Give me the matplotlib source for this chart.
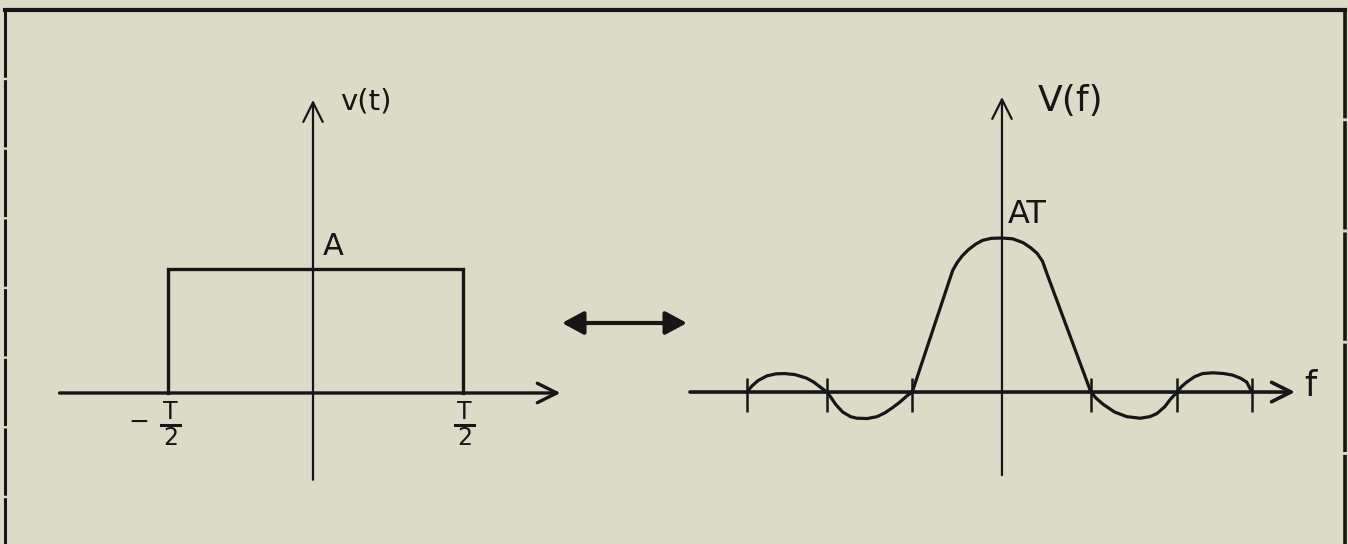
import matplotlib
matplotlib.use("Agg")
import matplotlib.pyplot as plt
from matplotlib.lines import Line2D

plt.rcParams['font.family'] = ['DejaVu Sans']

# rectangular pulse v(t), t in units of T/2, v in units of A
pulse_t = [-0.97, -0.97, 1.0, 1.0]
pulse_v = [0.0, 1.0, 1.0, 0.0]
edge_t = [-0.95, 1.01]          # where the -T/2 and T/2 labels sit

# spectrum V(f), f in units of 1/T, V in units of AT
spec_f = [-2.90, -2.84, -2.77, -2.67, -2.57, -2.47, -2.35, -2.22, -2.14, -2.06, -1.99,
          -1.95, -1.89, -1.81, -1.72, -1.65, -1.53, -1.42, -1.33, -1.24, -1.16, -1.08, -1.02,
          -0.56, -0.51, -0.45, -0.38, -0.30, -0.22, -0.12, 0.0, 0.12, 0.24, 0.33, 0.40, 0.46, 0.51,
          1.01, 1.07, 1.15, 1.28, 1.42, 1.57, 1.68, 1.76, 1.85, 1.91, 1.99,
          2.04, 2.10, 2.19, 2.28, 2.40, 2.52, 2.62, 2.71, 2.78, 2.84]
spec_v = [0.0, 0.04, 0.075, 0.105, 0.118, 0.12, 0.113, 0.09, 0.065, 0.03, 0.0,
          -0.03, -0.08, -0.13, -0.16, -0.17, -0.172, -0.16, -0.135, -0.10, -0.065, -0.025, 0.0,
          0.79, 0.84, 0.885, 0.925, 0.96, 0.985, 0.998, 1.0, 0.995, 0.97, 0.935, 0.90, 0.85, 0.77,
          0.0, -0.04, -0.08, -0.13, -0.16, -0.17, -0.16, -0.14, -0.095, -0.05, 0.0,
          0.035, 0.065, 0.10, 0.12, 0.125, 0.12, 0.11, 0.09, 0.065, 0.0]
zero_f = [-2.90, -1.99, -1.02, 1.01, 1.99, 2.84]

BG = '#dbdbc8'
INK = '#161616'
W, H = 1348, 544

fig = plt.figure(figsize=(W / 100, H / 100), dpi=100, facecolor=BG)


def box(x0, y0, x1, y1):
    # pixel box -> figure fraction
    return [x0 / W, 1 - y1 / H, (x1 - x0) / W, (y1 - y0) / H]


def axis_arrow(ax, start, tip, lw):
    ax.annotate('', xy=tip, xytext=start,
                arrowprops=dict(arrowstyle='->,head_length=0.7,head_width=0.35',
                                mutation_scale=20, lw=lw, color=INK,
                                shrinkA=0, shrinkB=0))


# ---- left: v(t)
axl = fig.add_axes(box(40, 80, 580, 500))
axl.set_xlim(-1.82, 1.78)
axl.set_ylim(-0.863, 2.524)
axl.axis('off')

axis_arrow(axl, (-1.69, 0), (1.65, 0), 2.4)
axis_arrow(axl, (0, -0.70), (0, 2.363), 1.6)
axl.plot(pulse_t, pulse_v, color=INK, lw=2.4, solid_joinstyle='miter')

axl.text(0.18, 2.35, 'v(t)', fontsize=21, color=INK, va='center', ha='left')
axl.text(0.067, 1.185, 'A', fontsize=22, color=INK, va='center', ha='left')

# -T/2 and T/2 written as T over a short bar over 2
axl.text(-1.16, -0.235, '\u2212', fontsize=18, color=INK, va='center', ha='center')
for tx in edge_t:
    axl.text(tx, -0.155, 'T', fontsize=17, color=INK, va='center', ha='center')
    axl.text(tx, -0.36, '2', fontsize=17, color=INK, va='center', ha='center')
    axl.plot([tx - 0.065, tx + 0.065], [-0.26, -0.26], color=INK, lw=2.2)

# ---- right: V(f)
axr = fig.add_axes(box(660, 80, 1340, 500))
axr.set_xlim(-3.886, 3.841)
axr.set_ylim(-0.701, 2.026)
axr.axis('off')

axis_arrow(axr, (-3.545, 0), (3.33, 0), 2.6)
axis_arrow(axr, (0, -0.54), (0, 1.916), 1.6)
axr.vlines(zero_f, -0.13, 0.09, color=INK, lw=1.8)
axr.plot(spec_f, spec_v, color=INK, lw=2.3, solid_joinstyle='round')

axr.text(0.41, 1.89, 'V(f)', fontsize=26, color=INK, va='center', ha='left')
axr.text(0.07, 1.15, 'AT', fontsize=23, color=INK, va='center', ha='left')
axr.text(3.44, 0.04, 'f', fontsize=25, color=INK, va='center', ha='left')

# ---- transform pair arrow and frame
fig.add_artist(plt.Annotation('', xy=(687 / W, 1 - 323 / H), xytext=(562 / W, 1 - 323 / H),
                              xycoords='figure fraction', textcoords='figure fraction',
                              arrowprops=dict(arrowstyle='<|-|>,head_length=0.65,head_width=0.35',
                                              mutation_scale=20, lw=3, color=INK,
                                              shrinkA=0, shrinkB=0)))

fig.add_artist(Line2D([5 / W, 1345 / W], [1 - 10 / H, 1 - 10 / H],
                      transform=fig.transFigure, color=INK, lw=3.0))
fig.add_artist(Line2D([5 / W, 5 / W], [1 - 10 / H, 0],
                      transform=fig.transFigure, color=INK, lw=2.2,
                      dashes=(22, 0.8)))
fig.add_artist(Line2D([1345 / W, 1345 / W], [1 - 10 / H, 0],
                      transform=fig.transFigure, color=INK, lw=2.6,
                      dashes=(30, 0.8)))

fig.savefig('out.png', dpi=100, facecolor=BG)
